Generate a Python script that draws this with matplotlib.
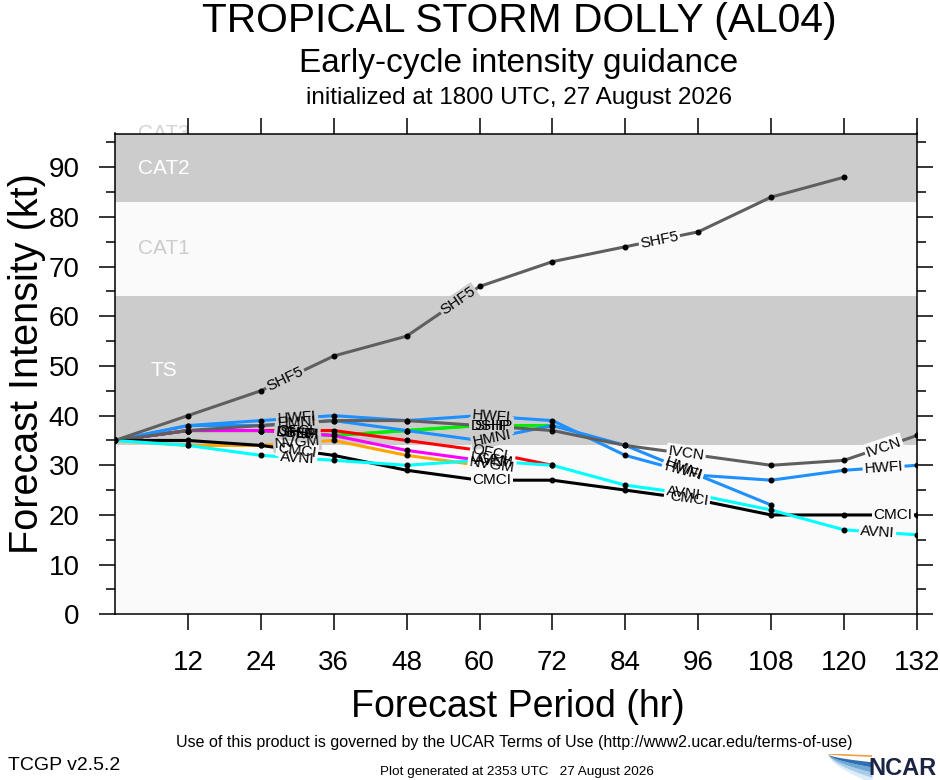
#!/usr/bin/python3

import numpy as np
import matplotlib
matplotlib.use("Agg")
import matplotlib.pyplot as plt

plt.rcParams["font.family"] = ["Liberation Sans", "DejaVu Sans"]

# forecast hours and model intensities (kt)
hours = [0, 12, 24, 36, 48, 60, 72, 84, 96, 108, 120, 132]

ship = [35, 37, 37, 36, 37, 38, 38]
dshp = [35, 37, 37, 36, 37, 38, 38]
ofcl = [35, 37, 37, 37, 35, 33, 30]
lgem = [35, 37, 37, 36, 33, 31]
nvgm = [35, 34, 34, 35, 32, 30]
hmni = [35, 38, 38, 39, 37, 35, 38, 34, 28, 22]
hwfi = [35, 38, 39, 40, 39, 40, 39, 32, 28, 27, 29, 30]
ivcn = [35, 37, 38, 39, 39, 38, 37, 34, 32, 30, 31, 36]
cmci = [35, 35, 34, 32, 29, 27, 27, 25, 23, 20, 20, 20]
avni = [35, 34, 32, 31, 30, 31, 30, 26, 24, 21, 17, 16]
shf5 = [35, 40, 45, 52, 56, 66, 71, 74, 77, 84, 88]

# drawing order, colours and where each line gets its labels (hr)
models = [
    ("SHIP", ship, "#00ee00", [30, 62]),
    ("DSHP", dshp, "#00ee00", [30, 62]),
    ("OFCL", ofcl, "#ff0000", [30, 62]),
    ("LGEM", lgem, "#ff00ff", [30, 62]),
    ("NVGM", nvgm, "#ffa500", [30, 62]),
    ("HMNI", hmni, "#1e90ff", [30, 62, 93.5]),
    ("HWFI", hwfi, "#1e90ff", [30, 62, 93.5, 126.5]),
    ("IVCN", ivcn, "#5f5f5f", [94, 126.5]),
    ("CMCI", cmci, "#000000", [30, 62, 94.5, 128]),
    ("AVNI", avni, "#00ffff", [30, 62, 93.5, 125.5]),
    ("SHF5", shf5, "#5f5f5f", [28, 56.5, 89.6]),
]

# intensity category bands
band_edges = [0, 34, 64, 83, 97]
band_colors = ["#fafafa", "#cccccc", "#fafafa", "#cccccc"]
band_names = ["", "TS", "CAT1", "CAT2"]
band_text = ["", "white", "#cccccc", "white"]

xticks = list(range(12, 133, 12))
yticks = list(range(0, 91, 10))


def band_color(y):
    for k in range(len(band_colors)):
        if band_edges[k] <= y < band_edges[k + 1]:
            return band_colors[k]
    return band_colors[-1]


def put_labels(ax, name, xs, ys, where):
    for h in where:
        y = np.interp(h, xs, ys)
        i = min(max(int(np.searchsorted(xs, h)), 1), len(xs) - 1)
        ang = np.degrees(np.arctan2(ys[i] - ys[i - 1], xs[i] - xs[i - 1]))
        kw = dict(rotation=ang, transform_rotates_text=True,
                  rotation_mode="anchor", ha="center", va="center",
                  fontsize=11)
        # gap in the line under the label
        ax.text(h, y, name, color="none", zorder=3,
                bbox=dict(boxstyle="square,pad=0.1", fc=band_color(y), ec="none"),
                **kw)
        ax.text(h, y, name, color="black", zorder=4, **kw)


def main():
    fig = plt.figure(figsize=(9.4, 7.8), dpi=100)
    ax = fig.add_axes([115 / 940, 1 - 614.3 / 780, 802 / 940, (614.3 - 133.5) / 780])
    ax.set_xlim(0, 132)
    ax.set_ylim(0, 96.8)
    ax.set_facecolor(band_colors[0])

    for k in range(1, len(band_colors)):
        ax.axhspan(band_edges[k], band_edges[k + 1], color=band_colors[k],
                   lw=0, zorder=1)
    label_y = [0, 49, 73.6, 89.8]
    label_x = [0, 5.8, 3.8, 3.8]
    for k in range(1, len(band_names)):
        ax.text(label_x[k], label_y[k], band_names[k], color=band_text[k],
                fontsize=15, va="center", ha="left", zorder=1.5)
    ax.text(3.8, 96.8, "CAT3", color="#d4d4d4", fontsize=15, va="center",
            ha="left", zorder=0.5, clip_on=False)

    for name, vals, col, where in models:
        xs = hours[:len(vals)]
        ax.plot(xs, vals, color=col, lw=2.2, marker="o", ms=3.3,
                mfc="black", mec="black", zorder=2, solid_joinstyle="round")
        put_labels(ax, name, xs, vals, where)

    ax.set_xticks(xticks)
    ax.set_yticks(yticks)
    ax.set_yticks(list(range(5, 96, 10)), minor=True)
    ax.tick_params(which="both", direction="out", top=True, right=True,
                   labeltop=False, labelright=False, width=1.1)
    ax.tick_params(which="major", length=11.5, labelsize=20, pad=14)
    ax.tick_params(which="minor", length=6.5)
    for s in ax.spines.values():
        s.set_linewidth(1.1)

    fig.text(518 / 940, 1 - 707 / 780, "Forecast Period (hr)", fontsize=27,
             ha="center", va="center")
    fig.text(27 / 940, 1 - 364 / 780, "Forecast Intensity (kt)", fontsize=28.5,
             ha="center", va="center", rotation=90)

    cx = 519 / 940
    fig.text(cx, 1 - 32 / 780, "TROPICAL STORM DOLLY (AL04)", fontsize=29.3,
             ha="center", va="baseline")
    fig.text(cx, 1 - 72 / 780, "Early-cycle intensity guidance", fontsize=24,
             ha="center", va="baseline")
    fig.text(cx, 1 - 104 / 780, "initialized at 1800 UTC, 27 August 2026",
             fontsize=17.5, ha="center", va="baseline")

    fig.text(514 / 940, 1 - 742 / 780,
             "Use of this product is governed by the UCAR Terms of Use "
             "(http://www2.ucar.edu/terms-of-use)", fontsize=11.5,
             ha="center", va="center")
    fig.text(8 / 940, 1 - 765 / 780, "TCGP v2.5.2", fontsize=14,
             ha="left", va="center")
    fig.text(517 / 940, 1 - 772 / 780,
             "Plot generated at 2353 UTC   27 August 2026", fontsize=9.7,
             ha="center", va="center")

    # NCAR logo, rough
    lg = fig.add_axes([828 / 940, 0, 44 / 940, 26 / 780])
    lg.set_xlim(0, 1)
    lg.set_ylim(0, 1)
    lg.axis("off")
    t = np.linspace(0, 1, 40)
    blues = ["#dcecf8", "#a9cde9", "#6fa8d6", "#2f6fb0"]
    for k, c in enumerate(blues):
        lo = 1 - (t ** 0.6) * (1.1 - 0.2 * k)
        hi = 1 - (t ** 0.6) * (0.9 - 0.2 * k)
        lg.fill_between(t, lo, hi, color=c, lw=0)
    lg.plot(t, 1.02 - (t ** 0.6) * 0.1, color="#f0a040", lw=1.2)
    fig.text(868 / 940, 0.0, "NCAR", fontsize=17, fontweight="bold",
             color="#1b2442", ha="left", va="bottom")

    fig.savefig("out.png", dpi=100)


if __name__ == "__main__":
    main()
